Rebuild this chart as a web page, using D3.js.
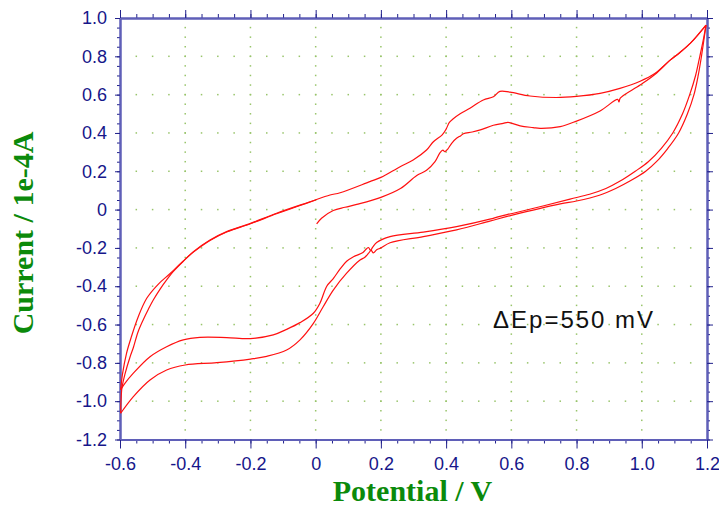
<!DOCTYPE html>
<html>
<head>
<meta charset="utf-8">
<script src="https://cdn.jsdelivr.net/npm/d3@7/dist/d3.min.js"></script>
<style>
  body { margin: 0; background: #ffffff; }
  svg { display: block; }
</style>
</head>
<body>
<svg id="chart" width="719" height="525"></svg>
<script>
// Axis tick values and their printed labels
const xTicks = [-0.6, -0.4, -0.2, 0, 0.2, 0.4, 0.6, 0.8, 1.0, 1.2];
const xTickLabels = ["-0.6", "-0.4", "-0.2", "0", "0.2", "0.4", "0.6", "0.8", "1.0", "1.2"];
const yTicks = [1.0, 0.8, 0.6, 0.4, 0.2, 0, -0.2, -0.4, -0.6, -0.8, -1.0, -1.2];
const yTickLabels = ["1.0", "0.8", "0.6", "0.4", "0.2", "0", "-0.2", "-0.4", "-0.6", "-0.8", "-1.0", "-1.2"];

// Cyclic voltammogram sweeps: [potential / V, current / 1e-4 A]
// first anodic sweep, starting at 0 V
const anodic1 = [
  [0.003, -0.075], [0.018, -0.045], [0.054, -0.005], [0.09, 0.012], [0.126, 0.027],
  [0.2, 0.064], [0.26, 0.11], [0.31, 0.178], [0.34, 0.205], [0.366, 0.25],
  [0.381, 0.296], [0.39, 0.31], [0.396, 0.302], [0.405, 0.316], [0.417, 0.346],
  [0.432, 0.372], [0.445, 0.386], [0.453, 0.396], [0.48, 0.405], [0.505, 0.416],
  [0.545, 0.44], [0.575, 0.45], [0.59, 0.455], [0.627, 0.437], [0.667, 0.428],
  [0.688, 0.424], [0.75, 0.433], [0.8, 0.462], [0.872, 0.515], [0.926, 0.575],
  [0.93, 0.562], [0.934, 0.582], [0.995, 0.65], [1.04, 0.705], [1.087, 0.78],
  [1.117, 0.82], [1.15, 0.87], [1.197, 0.963]
];
// first cathodic sweep, 1.2 V down to -0.6 V
const cathodic1 = [
  [1.197, 0.963], [1.19, 0.88], [1.183, 0.8], [1.173, 0.7], [1.16, 0.6],
  [1.14, 0.5], [1.113, 0.4], [1.08, 0.32], [1.045, 0.25], [1.012, 0.2],
  [0.965, 0.15], [0.92, 0.11], [0.87, 0.075], [0.8, 0.045], [0.75, 0.03],
  [0.6, -0.03], [0.534, -0.06], [0.432, -0.106], [0.33, -0.141], [0.228, -0.173],
  [0.2, -0.2], [0.187, -0.21], [0.177, -0.226], [0.17, -0.213], [0.163, -0.226],
  [0.15, -0.25], [0.136, -0.263], [0.095, -0.332], [0.054, -0.42], [0.023, -0.507],
  [-0.007, -0.594], [-0.048, -0.68], [-0.089, -0.733], [-0.15, -0.766], [-0.2, -0.78],
  [-0.303, -0.799], [-0.4, -0.811], [-0.457, -0.837], [-0.508, -0.889], [-0.559, -0.976],
  [-0.598, -1.063]
];
// second anodic sweep, -0.6 V up to 1.2 V
const anodic2 = [
  [-0.598, -1.063], [-0.597, -1.0], [-0.594, -0.93], [-0.585, -0.86], [-0.569, -0.768],
  [-0.559, -0.72], [-0.545, -0.64], [-0.529, -0.576], [-0.513, -0.52], [-0.498, -0.472],
  [-0.477, -0.415], [-0.457, -0.367], [-0.437, -0.324], [-0.406, -0.27], [-0.375, -0.22],
  [-0.324, -0.159], [-0.273, -0.115], [-0.2, -0.072], [-0.12, -0.019], [-0.017, 0.041],
  [0.044, 0.076], [0.075, 0.088], [0.166, 0.146], [0.2, 0.168], [0.259, 0.224],
  [0.299, 0.259], [0.34, 0.311], [0.361, 0.354], [0.388, 0.39], [0.4, 0.42],
  [0.41, 0.455], [0.422, 0.474], [0.443, 0.5], [0.473, 0.529], [0.514, 0.572],
  [0.545, 0.589], [0.565, 0.617], [0.596, 0.613], [0.657, 0.593], [0.738, 0.585],
  [0.8, 0.591], [0.872, 0.607], [0.933, 0.633], [0.995, 0.67], [1.04, 0.71],
  [1.087, 0.78], [1.117, 0.82], [1.15, 0.87], [1.197, 0.963]
];
// second cathodic sweep, 1.2 V down to -0.6 V
const cathodic2 = [
  [1.197, 0.963], [1.188, 0.88], [1.178, 0.8], [1.165, 0.7], [1.147, 0.6],
  [1.125, 0.5], [1.095, 0.4], [1.06, 0.32], [1.02, 0.25], [0.98, 0.2],
  [0.935, 0.15], [0.89, 0.11], [0.84, 0.08], [0.78, 0.055], [0.7, 0.02],
  [0.606, -0.019], [0.565, -0.035], [0.534, -0.05], [0.432, -0.089], [0.33, -0.118],
  [0.228, -0.141], [0.187, -0.172], [0.175, -0.196], [0.168, -0.212], [0.162, -0.198],
  [0.156, -0.204], [0.145, -0.224], [0.116, -0.246], [0.095, -0.27], [0.075, -0.31],
  [0.054, -0.36], [0.034, -0.4], [0.013, -0.489], [-0.007, -0.541], [-0.048, -0.59],
  [-0.089, -0.625], [-0.13, -0.654], [-0.2, -0.673], [-0.273, -0.668], [-0.355, -0.667],
  [-0.406, -0.68], [-0.457, -0.716], [-0.508, -0.768], [-0.559, -0.854], [-0.585, -0.907],
  [-0.598, -0.94]
];
// final anodic sweep, -0.6 V back to 0 V
const anodic3 = [
  [-0.598, -0.94], [-0.592, -0.855], [-0.58, -0.75], [-0.565, -0.663], [-0.544, -0.559],
  [-0.518, -0.463], [-0.483, -0.39], [-0.447, -0.335], [-0.406, -0.268], [-0.375, -0.222],
  [-0.324, -0.161], [-0.273, -0.117], [-0.2, -0.074], [-0.12, -0.022], [-0.05, 0.02],
  [0.0, 0.05]
];
const sweeps = [anodic1, cathodic1, anodic2, cathodic2, anodic3];

const peakNote = "\u0394Ep=550 mV";
const xTitle = "Potential / V";
const yTitle = "Current / 1e-4A";

// ---- layout ----
const plot = { left: 120, right: 707, top: 18, bottom: 439.5 };
const axisColor = "#5f5fb8";
const tickColor = "#22228c";
const labelColor = "#16168a";
const titleColor = "#0b8a0b";
const gridColor = "#98c46a";

const svg = d3.select("#chart");
const x = d3.scaleLinear().domain([-0.6, 1.2]).range([plot.left, plot.right]);
const y = d3.scaleLinear().domain([-1.2, 1.0]).range([plot.bottom, plot.top]);

const minorX = d3.range(-0.6, 1.2001, 0.05).map(v => +v.toFixed(2));
const minorY = d3.range(-1.2, 1.0001, 0.05).map(v => +v.toFixed(2));

// dotted grid: dots along each interior major gridline at minor-tick spacing
const grid = svg.append("g");
xTicks.slice(1, -1).forEach(xv => {
  minorY.slice(1, -1).forEach(yv => {
    grid.append("rect").attr("x", x(xv) - 0.75).attr("y", y(yv) - 0.75)
      .attr("width", 1.5).attr("height", 1.5).attr("fill", gridColor);
  });
});
yTicks.slice(1, -1).forEach(yv => {
  minorX.slice(1, -1).forEach(xv => {
    grid.append("rect").attr("x", x(xv) - 0.75).attr("y", y(yv) - 0.75)
      .attr("width", 1.5).attr("height", 1.5).attr("fill", gridColor);
  });
});

// axes
function styleAxis(g) {
  g.select(".domain").attr("stroke", axisColor).attr("stroke-width", 2);
  g.selectAll(".tick line").attr("stroke", tickColor).attr("stroke-width", 1);
}
const fmtX = v => xTickLabels[xTicks.findIndex(t => Math.abs(t - v) < 1e-9)];
const fmtY = v => yTickLabels[yTicks.findIndex(t => Math.abs(t - v) < 1e-9)];

// bottom: minor then major
svg.append("g").attr("transform", `translate(0,${plot.bottom})`)
  .call(d3.axisBottom(x).tickValues(minorX).tickSize(4).tickSizeOuter(0).tickFormat(""))
  .call(styleAxis);
const gx = svg.append("g").attr("transform", `translate(0,${plot.bottom})`)
  .call(d3.axisBottom(x).tickValues(xTicks).tickSize(9).tickSizeOuter(0).tickPadding(9).tickFormat(fmtX))
  .call(styleAxis);
gx.selectAll("text").attr("fill", labelColor)
  .style("font-family", "'Liberation Sans', Arial, sans-serif").style("font-size", "18px");

// top
svg.append("g").attr("transform", `translate(0,${plot.top})`)
  .call(d3.axisTop(x).tickValues(minorX).tickSize(4).tickSizeOuter(0).tickFormat(""))
  .call(styleAxis);
svg.append("g").attr("transform", `translate(0,${plot.top})`)
  .call(d3.axisTop(x).tickValues(xTicks).tickSize(8).tickSizeOuter(0).tickFormat(""))
  .call(styleAxis);

// left: minor then major with labels
svg.append("g").attr("transform", `translate(${plot.left},0)`)
  .call(d3.axisLeft(y).tickValues(minorY).tickSize(3).tickSizeOuter(0).tickFormat(""))
  .call(styleAxis);
const gy = svg.append("g").attr("transform", `translate(${plot.left},0)`)
  .call(d3.axisLeft(y).tickValues(yTicks).tickSize(5).tickSizeOuter(0).tickPadding(8).tickFormat(fmtY))
  .call(styleAxis);
gy.selectAll("text").attr("fill", labelColor)
  .style("font-family", "'Liberation Sans', Arial, sans-serif").style("font-size", "18px");

// right
svg.append("g").attr("transform", `translate(${plot.right},0)`)
  .call(d3.axisRight(y).tickValues(minorY).tickSize(3).tickSizeOuter(0).tickFormat(""))
  .call(styleAxis);
svg.append("g").attr("transform", `translate(${plot.right},0)`)
  .call(d3.axisRight(y).tickValues(yTicks).tickSize(6).tickSizeOuter(0).tickFormat(""))
  .call(styleAxis);

// voltammogram traces
const line = d3.line()
  .x(d => x(d[0])).y(d => y(d[1]))
  .curve(d3.curveCatmullRom.alpha(0.5));
svg.append("g").selectAll("path").data(sweeps).join("path")
  .attr("d", line)
  .attr("fill", "none")
  .attr("stroke", "#ff1010")
  .attr("stroke-width", 1.2)
  .attr("stroke-linejoin", "round");

// annotation
svg.append("text").attr("x", 493).attr("y", 328)
  .attr("fill", "#111111")
  .style("font-family", "'Liberation Sans', Arial, sans-serif").style("font-size", "24px")
  .style("letter-spacing", "2px")
  .text(peakNote);

// axis titles
svg.append("text").attr("x", (plot.left + plot.right) / 2 - 1).attr("y", 500.5)
  .attr("text-anchor", "middle").attr("fill", titleColor)
  .style("font-family", "'Liberation Serif', 'Times New Roman', serif")
  .style("font-weight", "bold").style("font-size", "30px")
  .text(xTitle);
svg.append("text").attr("transform", "translate(33,233) rotate(-90)")
  .attr("text-anchor", "middle").attr("fill", titleColor)
  .style("font-family", "'Liberation Serif', 'Times New Roman', serif")
  .style("font-weight", "bold").style("font-size", "30px")
  .text(yTitle);
</script>
</body>
</html>
